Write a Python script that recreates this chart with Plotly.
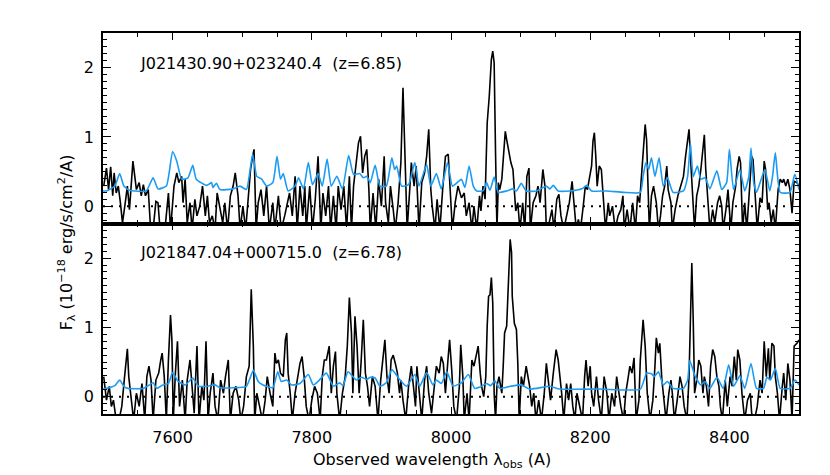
import plotly.graph_objects as go
from plotly.subplots import make_subplots

# J021430.90+023240.4 (top panel) -- flux
wave_a = [
    7501, 7505, 7508, 7511, 7514, 7516, 7519, 7522, 7525, 7528,
    7532, 7535, 7538, 7543, 7548, 7552, 7555, 7558, 7561, 7565,
    7568, 7572, 7576, 7579, 7582, 7589, 7594, 7597, 7602, 7606,
    7609, 7613, 7615, 7618, 7621, 7625, 7628, 7632, 7635, 7639,
    7643, 7647, 7650, 7653, 7657, 7661, 7664, 7668, 7672, 7675,
    7679, 7683, 7687, 7690, 7694, 7697, 7701, 7705, 7709, 7712,
    7715, 7717, 7720, 7723, 7727, 7731, 7735, 7739, 7744, 7747,
    7752, 7756, 7761, 7765, 7768, 7772, 7776, 7779, 7783, 7787,
    7790, 7792, 7797, 7801, 7805, 7809, 7813, 7816, 7820, 7824,
    7827, 7831, 7835, 7838, 7842, 7846, 7850, 7854, 7857, 7860,
    7864, 7867, 7870, 7873, 7876, 7879, 7882, 7884, 7888, 7892,
    7896, 7900, 7904, 7906, 7910, 7913, 7917, 7920, 7924, 7928,
    7931, 7934, 7937, 7941, 7943, 7947, 7950, 7954, 7958, 7962,
    7965, 7968, 7971, 7973, 7977, 7980, 7984, 7988, 7992, 7996,
    7998, 8002, 8006, 8010, 8015, 8019, 8022, 8026, 8030, 8033,
    8037, 8041, 8043, 8046, 8049, 8052, 8055, 8058, 8060, 8062,
    8064, 8066, 8068, 8070, 8073, 8075, 8078, 8080, 8083, 8086,
    8089, 8091, 8093, 8096, 8099, 8103, 8106, 8109, 8112, 8114,
    8118, 8122, 8125, 8128, 8132, 8135, 8137, 8141, 8145, 8148,
    8152, 8155, 8158, 8162, 8166, 8170, 8174, 8177, 8180, 8183,
    8186, 8190, 8193, 8196, 8199, 8202, 8204, 8206, 8208, 8210,
    8213, 8216, 8219, 8222, 8226, 8228, 8232, 8236, 8240, 8244,
    8247, 8249, 8253, 8257, 8261, 8265, 8268, 8271, 8273, 8276,
    8279, 8281, 8283, 8285, 8288, 8291, 8295, 8298, 8301, 8304,
    8307, 8310, 8312, 8316, 8318, 8322, 8326, 8330, 8334, 8337,
    8340, 8342, 8344, 8347, 8350, 8353, 8356, 8359, 8362, 8364,
    8366, 8369, 8372, 8376, 8379, 8383, 8386, 8389, 8391, 8395,
    8398, 8402, 8405, 8409, 8411, 8414, 8416, 8419, 8422, 8425,
    8429, 8432, 8434, 8437, 8440, 8444, 8447, 8450, 8452, 8455,
    8457, 8460, 8463, 8466, 8470, 8473, 8476, 8478, 8481, 8484,
    8487, 8490, 8493, 8497, 8500,
]
flux_a = [
    0.29, 0.55, 0.24, 0.57, 0.15, 0.48, 0.19, 0.29, 0.05, -0.24,
    0.05, 0.29, -0.05, 0.65, 0.24, 0.34, 0.15, 0.31, 0.15, 0.24,
    -0.26, -0.34, 0.07, 0.05, -0.34, -0.34, 0.19, -0.34, 0.29, 0.48,
    0.34, 0.43, 0.05, 0.39, -0.24, 0.05, -0.34, 0.10, -0.14, 0.00,
    0.29, -0.14, 0.15, -0.24, -0.14, -0.34, 0.19, -0.05, -0.24, 0.05,
    -0.34, 0.15, 0.29, 0.48, 0.15, -0.34, 0.00, -0.34, 0.24, 0.53,
    0.72, 0.82, -0.34, 0.05, 0.24, -0.14, 0.29, -0.34, 0.05, -0.34,
    0.15, -0.34, -0.14, 0.05, 0.19, -0.14, 0.43, -0.34, 0.29, -0.14,
    0.29, -0.34, 0.29, -0.34, 0.10, 0.72, -0.34, 0.19, -0.14, 0.29,
    -0.34, 0.15, -0.34, 0.29, -0.05, 0.29, -0.34, 0.43, -0.34, 0.29,
    0.63, 0.91, 1.01, 0.48, 0.72, 0.82, 0.24, -0.34, 0.19, -0.34,
    0.39, 0.00, 0.72, 0.05, -0.24, 0.29, -0.05, -0.34, 0.05, 0.63,
    1.71, 0.53, -0.34, 0.29, 0.63, 0.29, 0.58, -0.34, 0.34, 0.48,
    0.72, 1.11, 0.24, 0.00, -0.34, 0.10, -0.34, 0.24, 0.72, 0.75,
    0.29, -0.34, 0.05, 0.29, 0.12, 0.19, -0.14, 0.05, -0.34, 0.00,
    -0.34, 0.15, -0.07, 0.29, 0.10, 1.20, 1.59, 2.12, 2.24, 2.07,
    0.77, -0.34, 0.34, 0.24, 0.39, 0.72, 1.08, 0.96, 0.77, 0.63,
    0.53, 0.15, -0.07, 0.05, -0.34, 0.05, -0.34, 0.43, 0.55, -0.34,
    0.05, 0.15, 0.29, 0.05, 0.53, 0.29, -0.34, -0.24, -0.05, -0.34,
    0.10, 0.17, -0.14, -0.34, -0.14, 0.05, 0.36, -0.05, -0.34, -0.19,
    -0.34, 0.00, 0.29, 0.24, 0.43, 0.58, 0.94, 1.06, 0.72, 0.29,
    0.58, 0.53, 0.10, -0.34, 0.05, -0.14, 0.00, -0.34, -0.14, -0.05,
    0.15, -0.34, -0.05, -0.34, 0.05, -0.34, 0.15, 0.05, 0.34, 0.72,
    1.18, 0.96, 0.43, -0.34, 0.15, 0.29, 0.05, -0.34, -0.14, 0.15,
    0.29, 0.58, 0.24, 0.05, -0.34, -0.05, 0.15, 0.29, 0.43, 0.72,
    0.96, 1.11, 0.72, 0.05, -0.34, 0.15, 0.29, 0.53, 0.82, 1.03,
    0.53, 0.15, -0.34, -0.05, -0.24, 0.05, 0.15, 0.00, -0.34, -0.05,
    0.24, -0.34, 0.05, 0.29, 0.53, 0.72, 0.63, -0.34, 0.05, -0.34,
    0.34, 0.72, 0.67, 0.24, -0.34, 0.12, 0.05, 0.65, 0.53, -0.05,
    0.05, -0.24, -0.05, -0.34, 0.24, 0.39, 0.34, 0.39, 0.29, 0.39,
    0.24, -0.10, 0.36, 0.34, 0.29,
]
# J021430 error spectrum
err_wave_a = [
    7500, 7505, 7517, 7524, 7530, 7538, 7562, 7572, 7579, 7591,
    7600, 7606, 7613, 7622, 7629, 7634, 7649, 7656, 7658, 7663,
    7668, 7687, 7697, 7706, 7715, 7721, 7728, 7735, 7744, 7750,
    7755, 7759, 7766, 7776, 7781, 7788, 7795, 7801, 7809, 7815,
    7822, 7828, 7836, 7844, 7853, 7860, 7869, 7874, 7879, 7884,
    7891, 7898, 7907, 7915, 7919, 7922, 7929, 7939, 7948, 7954,
    7965, 7971, 7979, 7986, 7995, 8002, 8010, 8015, 8020, 8026,
    8032, 8037, 8046, 8051, 8056, 8062, 8068, 8080, 8089, 8094,
    8101, 8108, 8123, 8137, 8142, 8147, 8154, 8171, 8188, 8195,
    8202, 8224, 8248, 8272, 8276, 8280, 8284, 8288, 8293, 8299,
    8305, 8311, 8319, 8334, 8340, 8344, 8348, 8354, 8359, 8365,
    8372, 8382, 8389, 8396, 8400, 8406, 8415, 8422, 8428, 8431,
    8435, 8439, 8451, 8458, 8462, 8466, 8473, 8487, 8494, 8500,
]
err_a = [
    0.22, 0.22, 0.29, 0.47, 0.29, 0.23, 0.22, 0.41, 0.25, 0.29,
    0.79, 0.65, 0.39, 0.41, 0.59, 0.39, 0.30, 0.34, 0.27, 0.33,
    0.24, 0.25, 0.29, 0.24, 0.75, 0.43, 0.39, 0.29, 0.34, 0.72,
    0.39, 0.47, 0.22, 0.29, 0.41, 0.25, 0.63, 0.31, 0.47, 0.29,
    0.68, 0.29, 0.43, 0.25, 0.73, 0.46, 0.47, 0.41, 0.43, 0.34,
    0.59, 0.29, 0.29, 0.70, 0.53, 0.58, 0.29, 0.31, 0.63, 0.29,
    0.60, 0.29, 0.47, 0.25, 0.63, 0.29, 0.35, 0.39, 0.27, 0.58,
    0.29, 0.22, 0.22, 0.34, 0.23, 0.42, 0.20, 0.22, 0.25, 0.22,
    0.33, 0.22, 0.22, 0.29, 0.25, 0.30, 0.22, 0.22, 0.25, 0.30,
    0.22, 0.22, 0.20, 0.20, 0.43, 0.63, 0.53, 0.70, 0.43, 0.70,
    0.29, 0.41, 0.20, 0.22, 0.43, 0.91, 0.43, 0.58, 0.39, 0.41,
    0.25, 0.51, 0.24, 0.34, 0.82, 0.24, 0.53, 0.22, 0.43, 0.84,
    0.34, 0.20, 0.53, 0.22, 0.43, 0.77, 0.20, 0.20, 0.46, 0.24,
]

# J021847.04+000715.0 (bottom panel)
wave_b = [
    7501, 7505, 7509, 7512, 7515, 7519, 7523, 7527, 7531, 7535,
    7537, 7541, 7544, 7548, 7552, 7556, 7560, 7563, 7566, 7569,
    7572, 7576, 7580, 7583, 7585, 7588, 7591, 7594, 7597, 7599,
    7601, 7604, 7607, 7610, 7614, 7618, 7621, 7625, 7628, 7631,
    7635, 7638, 7642, 7645, 7648, 7651, 7654, 7658, 7661, 7665,
    7669, 7673, 7676, 7680, 7683, 7687, 7691, 7695, 7698, 7702,
    7706, 7710, 7713, 7716, 7718, 7721, 7725, 7729, 7733, 7736,
    7740, 7744, 7747, 7749, 7752, 7755, 7759, 7762, 7764, 7766,
    7769, 7772, 7776, 7780, 7783, 7786, 7789, 7792, 7796, 7800,
    7804, 7808, 7812, 7815, 7818, 7821, 7825, 7828, 7831, 7834,
    7836, 7840, 7844, 7848, 7851, 7854, 7857, 7859, 7862, 7865,
    7868, 7871, 7874, 7877, 7880, 7883, 7887, 7891, 7895, 7899,
    7903, 7905, 7908, 7911, 7914, 7917, 7920, 7923, 7926, 7928,
    7931, 7935, 7939, 7943, 7946, 7949, 7951, 7954, 7958, 7962,
    7965, 7968, 7972, 7975, 7979, 7983, 7986, 7989, 7992, 7996,
    7998, 8001, 8004, 8008, 8012, 8014, 8017, 8019, 8023, 8026,
    8030, 8033, 8036, 8039, 8042, 8044, 8047, 8050, 8052, 8054,
    8056, 8058, 8060, 8062, 8064, 8066, 8069, 8073, 8075, 8077,
    8080, 8082, 8085, 8087, 8088, 8091, 8094, 8096, 8098, 8101,
    8104, 8108, 8111, 8113, 8116, 8119, 8122, 8126, 8130, 8134,
    8137, 8140, 8143, 8147, 8151, 8154, 8157, 8159, 8162, 8166,
    8169, 8172, 8175, 8178, 8181, 8185, 8189, 8192, 8194, 8197,
    8200, 8202, 8205, 8209, 8212, 8216, 8220, 8224, 8227, 8231,
    8235, 8238, 8241, 8244, 8248, 8251, 8254, 8257, 8260, 8263,
    8266, 8270, 8272, 8274, 8276, 8279, 8282, 8286, 8290, 8293,
    8295, 8298, 8300, 8303, 8306, 8309, 8313, 8316, 8318, 8321,
    8325, 8329, 8332, 8335, 8339, 8342, 8344, 8346, 8348, 8350,
    8353, 8356, 8359, 8362, 8364, 8367, 8370, 8373, 8376, 8379,
    8382, 8385, 8387, 8390, 8394, 8397, 8401, 8404, 8407, 8410,
    8412, 8415, 8418, 8422, 8426, 8430, 8432, 8436, 8440, 8444,
    8447, 8450, 8453, 8456, 8458, 8461, 8464, 8466, 8469, 8472,
    8476, 8478, 8481, 8484, 8487, 8490, 8493, 8497, 8500,
]
flux_b = [
    0.29, -0.05, 0.15, -0.14, -0.05, -0.34, -0.34, -0.14, 0.29, 0.69,
    0.29, -0.05, -0.34, 0.05, -0.14, 0.19, -0.34, 0.29, 0.44, 0.24,
    -0.34, 0.24, 0.34, 0.53, 0.63, 0.29, -0.34, 0.53, 1.18, 0.82,
    -0.34, 0.34, 0.80, -0.14, 0.24, -0.34, 0.24, 0.53, 0.15, -0.24,
    0.73, -0.34, 0.15, -0.05, 0.80, -0.34, 0.05, 0.34, -0.14, -0.34,
    0.24, 0.05, 0.29, 0.53, -0.34, 0.05, 0.15, -0.05, -0.34, -0.14,
    0.29, 0.44, 1.55, 0.73, -0.34, 0.05, -0.14, -0.34, -0.05, 0.29,
    0.05, -0.14, 0.63, 0.48, 0.53, 0.34, 0.29, 0.82, 0.92, 0.34,
    0.05, -0.34, 0.05, 0.29, 0.48, 0.58, 0.29, -0.14, -0.34, -0.05,
    0.15, 0.05, -0.34, 0.29, 0.53, 0.53, 0.73, 0.05, 0.44, 0.65,
    0.05, -0.34, 0.05, 0.29, 0.73, 1.43, 0.92, 0.05, 1.16, 0.73,
    0.05, 0.53, 1.11, 0.34, 0.15, -0.14, 0.29, 0.15, -0.34, 0.24,
    0.63, 0.82, 0.29, 0.05, 0.53, 0.60, 0.48, 0.34, 0.05, 0.24,
    -0.05, -0.34, 0.15, 0.44, 0.15, -0.14, 0.44, 0.05, -0.34, 0.24,
    0.44, 0.05, -0.24, 0.05, 0.44, 0.34, 0.58, 0.48, 0.05, 0.58,
    0.82, 0.39, -0.14, -0.34, 0.15, 0.75, 0.29, -0.34, 0.05, -0.34,
    0.53, 0.44, 0.58, 0.73, 0.34, 0.15, 0.00, 0.29, 1.02, 1.45,
    1.47, 1.72, 1.35, 0.05, -0.34, 0.15, 0.29, 0.05, 0.44, 0.92,
    1.02, 1.60, 2.27, 2.08, 1.45, 1.06, 0.97, 0.48, -0.34, 0.29,
    0.15, 0.44, 0.29, 0.15, -0.14, 0.05, -0.34, -0.05, -0.34, 0.05,
    0.48, 0.24, -0.05, 0.34, 0.68, 0.53, 0.29, 0.05, -0.34, 0.19,
    -0.05, 0.19, -0.14, -0.34, 0.05, -0.14, -0.34, 0.29, 0.53, 0.15,
    0.44, 0.05, -0.14, 0.29, -0.05, -0.34, 0.29, 0.05, -0.34, 0.05,
    -0.14, 0.29, 0.05, -0.14, -0.34, 0.05, 0.24, 0.44, 0.34, 0.56,
    -0.34, -0.05, 0.53, 0.92, 1.11, 0.73, 0.05, -0.34, -0.05, 0.44,
    0.85, 0.63, 0.77, 0.24, -0.14, -0.34, 0.05, 0.24, 0.05, -0.34,
    -0.05, 0.29, 0.15, -0.14, -0.34, 0.29, 1.11, 1.93, 1.11, 0.05,
    0.24, 0.53, 0.44, 0.05, 0.29, 0.15, -0.14, 0.44, 0.68, 0.58,
    0.29, 0.15, -0.14, -0.34, 0.24, -0.14, 0.29, 0.15, 0.58, 0.24,
    0.68, 0.53, 0.05, -0.34, -0.05, 0.05, -0.24, -0.34, -0.14, 0.24,
    0.05, 0.80, 0.29, 0.70, 0.24, 0.77, 0.73, 0.29, 0.05, -0.34,
    0.15, 0.34, -0.05, 0.48, 0.24, -0.34, 0.73, 0.77, 0.82,
]
# J021847 error spectrum
err_wave_b = [
    7500, 7505, 7517, 7524, 7530, 7536, 7558, 7565, 7572, 7577,
    7586, 7594, 7600, 7608, 7618, 7629, 7637, 7649, 7661, 7668,
    7687, 7706, 7716, 7723, 7730, 7744, 7751, 7756, 7764, 7771,
    7783, 7795, 7802, 7809, 7821, 7831, 7840, 7845, 7852, 7864,
    7871, 7879, 7884, 7891, 7898, 7907, 7915, 7926, 7936, 7948,
    7955, 7965, 7974, 7979, 7986, 7994, 8003, 8013, 8015, 8025,
    8034, 8044, 8051, 8057, 8063, 8070, 8085, 8101, 8113, 8142,
    8156, 8214, 8272, 8281, 8288, 8292, 8298, 8305, 8311, 8319,
    8334, 8340, 8343, 8351, 8359, 8365, 8372, 8382, 8391, 8399,
    8406, 8415, 8422, 8431, 8439, 8449, 8454, 8459, 8466, 8473,
    8487, 8494, 8500,
]
err_b = [
    0.11, 0.12, 0.16, 0.24, 0.15, 0.12, 0.12, 0.16, 0.20, 0.12,
    0.17, 0.19, 0.35, 0.22, 0.17, 0.27, 0.15, 0.15, 0.17, 0.13,
    0.13, 0.15, 0.38, 0.22, 0.17, 0.13, 0.36, 0.22, 0.24, 0.17,
    0.19, 0.32, 0.17, 0.22, 0.34, 0.15, 0.20, 0.16, 0.36, 0.24,
    0.28, 0.25, 0.28, 0.27, 0.15, 0.20, 0.39, 0.25, 0.15, 0.32,
    0.15, 0.35, 0.17, 0.24, 0.19, 0.36, 0.15, 0.19, 0.20, 0.32,
    0.12, 0.15, 0.19, 0.16, 0.23, 0.12, 0.15, 0.17, 0.11, 0.15,
    0.11, 0.11, 0.11, 0.34, 0.33, 0.29, 0.36, 0.17, 0.22, 0.12,
    0.12, 0.24, 0.52, 0.29, 0.17, 0.22, 0.12, 0.28, 0.12, 0.46,
    0.15, 0.30, 0.12, 0.48, 0.12, 0.12, 0.28, 0.24, 0.41, 0.12,
    0.12, 0.24, 0.17,
]

labels = ["J021430.90+023240.4  (z=6.85)", "J021847.04+000715.0  (z=6.78)"]

FONT = "DejaVu Sans"
BLUE = "#1c9bf2"

fig = make_subplots(rows=2, cols=1, shared_xaxes=True, vertical_spacing=0)

panels = [(wave_a, flux_a, err_wave_a, err_a), (wave_b, flux_b, err_wave_b, err_b)]
for row, (w, f, ew, e) in enumerate(panels, start=1):
    fig.add_trace(go.Scatter(x=[7500, 8500], y=[0, 0], mode="lines",
                             line=dict(color="black", width=2, dash="2px,6px")),
                  row=row, col=1)
    fig.add_trace(go.Scatter(x=w, y=f, mode="lines",
                             line=dict(color="black", width=1.6)),
                  row=row, col=1)
    fig.add_trace(go.Scatter(x=ew, y=e, mode="lines",
                             line=dict(color=BLUE, width=1.6, shape="spline", smoothing=0.5)),
                  row=row, col=1)

axis_common = dict(showline=True, linecolor="black", linewidth=1.5, mirror="ticks",
                   ticks="inside", tickcolor="black", tickwidth=1.2,
                   showgrid=False, zeroline=False, automargin=False)

fig.update_xaxes(range=[7500, 8500], tick0=7600, dtick=200, ticklen=7,
                 ticklabelstandoff=8,
                 minor=dict(dtick=50, ticklen=4, ticks="inside", tickcolor="black", tickwidth=1.2),
                 **axis_common)
fig.update_xaxes(showticklabels=False, row=1, col=1)
fig.update_yaxes(range=[-0.25, 2.5], tick0=0, dtick=1, ticklen=8,
                 ticklabelstandoff=4,
                 minor=dict(dtick=0.1, ticklen=4, ticks="inside", tickcolor="black", tickwidth=1.2),
                 **axis_common)

for i, txt in enumerate(labels):
    fig.add_annotation(text=txt, xref="paper", yref="paper", x=0.05,
                       y=[0.921, 0.4226][i], xanchor="left", yanchor="middle",
                       showarrow=False, font=dict(size=16, color="black"))

fig.add_annotation(text="F<sub>λ</sub> (10<sup>−18</sup> erg/s/cm<sup>2</sup>/A)",
                   xref="paper", yref="paper", x=-0.052, y=0.45, textangle=-90,
                   xanchor="center", yanchor="middle", showarrow=False,
                   font=dict(size=16, color="black"))
fig.add_annotation(text="Observed wavelength λ<sub>obs</sub> (A)",
                   xref="paper", yref="paper", x=0.473, y=-0.089,
                   xanchor="center", yanchor="top", showarrow=False,
                   font=dict(size=16, color="black"))

fig.update_layout(
    width=830, height=475,
    margin=dict(l=103, r=31, t=33, b=61),
    plot_bgcolor="white", paper_bgcolor="white",
    showlegend=False,
    font=dict(family=FONT, size=16, color="black"),
)

# drop the default 8px page margin so the figure sits at the window's corner
fig.write_html("out.html", config={"displayModeBar": False},
               post_script="document.body.style.margin='0px';")
